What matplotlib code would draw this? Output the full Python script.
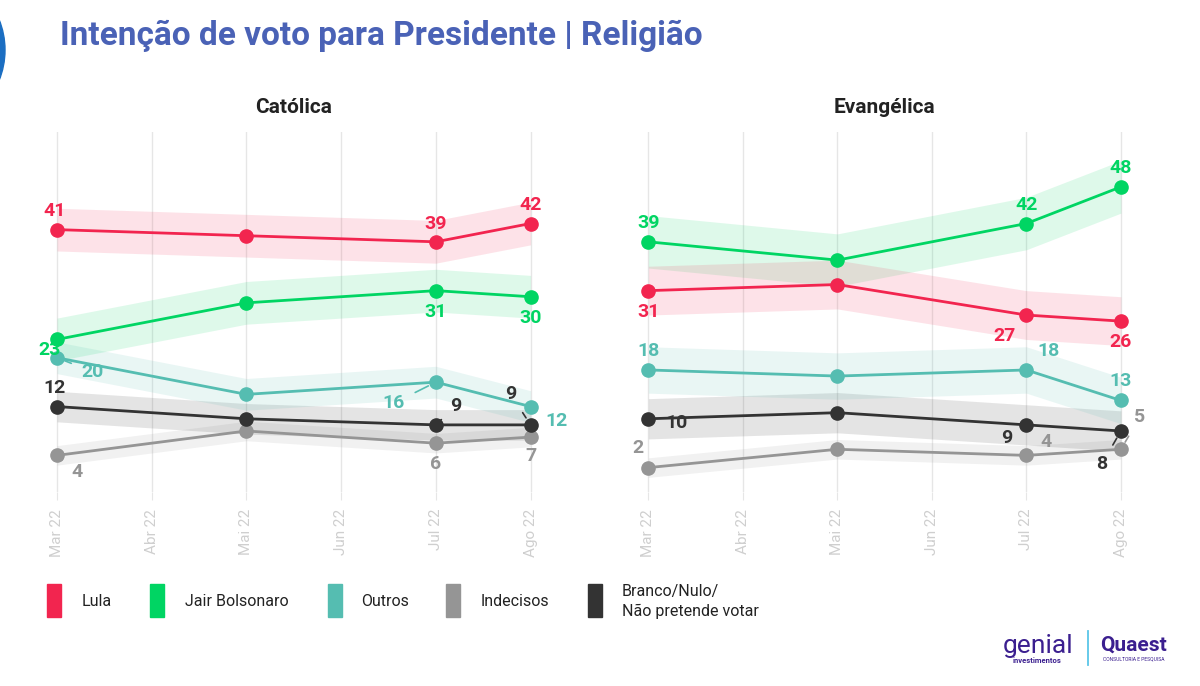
import numpy as np
import matplotlib.pyplot as plt
from matplotlib.patches import Rectangle, Circle

plt.rcParams['font.family'] = ['Roboto', 'DejaVu Sans']

# Dados
meses = ['Mar 22', 'Abr 22', 'Mai 22', 'Jun 22', 'Jul 22', 'Ago 22']
idx_pesquisa = [0, 2, 4, 5]  # meses com pesquisa

series = ['Lula', 'Jair Bolsonaro', 'Outros', 'Indecisos', 'Branco/Nulo/\nNão pretende votar']
cores = ['#F2254F', '#00D563', '#55BDB1', '#959595', '#333333']

cat_lula = [41, 40, 39, 42]
cat_bolso = [23, 29, 31, 30]
cat_outros = [20, 14, 16, 12]
cat_indec = [4, 8, 6, 7]
cat_branco = [12, 10, 9, 9]

eva_lula = [31, 32, 27, 26]
eva_bolso = [39, 36, 42, 48]
eva_outros = [18, 17, 18, 13]
eva_indec = [2, 5, 4, 5]
eva_branco = [10, 11, 9, 8]

# margem (meia largura da faixa)
cat_margem = [3.5, 3.5, 2.6, 1.6, 2.5]
eva_margem = [4.0, 4.3, 3.8, 1.6, 3.3]

# posição dos rótulos (dx, dy em pixels, linha de ligação) por ponto; None = sem rótulo
cat_rot = [
    [(-2, 19, 0), None, (0, 18, 0), (0, 19, 0)],
    [(-7, -11, 0), None, (0, -21, 0), (0, -21, 0)],
    [(36, -14, 1), None, (-42, -21, 1), (26, -14, 0)],
    [(20, -17, 1), None, (0, -21, 0), (0, -19, 0)],
    [(-2, 19, 0), None, (20, 19, 1), (-20, 31, 1)],
]
eva_rot = [
    [(0, -21, 0), None, (-22, -21, 1), (0, -21, 0)],
    [(0, 19, 0), None, (0, 19, 0), (0, 19, 0)],
    [(0, 19, 0), None, (22, 19, 1), (0, 19, 0)],
    [(-10, 20, 0), None, (20, 13, 0), (19, 32, 1)],
    [(28, -4, 0), None, (-20, -13, 0), (-19, -33, 1)],
]

paineis = [
    ('Católica', [cat_lula, cat_bolso, cat_outros, cat_indec, cat_branco], cat_margem, cat_rot),
    ('Evangélica', [eva_lula, eva_bolso, eva_outros, eva_indec, eva_branco], eva_margem, eva_rot),
]

fig = plt.figure(figsize=(12, 6.86), dpi=100)
posicoes = [[0.0238, 0.2828, 0.442, 0.5248], [0.5167, 0.2828, 0.441, 0.5248]]
ordem = [3, 4, 2, 1, 0]  # ordem de desenho

for pos, (titulo, valores, margem, rotulos) in zip(posicoes, paineis):
    ax = fig.add_axes(pos)
    x = np.array(idx_pesquisa)
    for i in ordem:
        v = np.array(valores[i], dtype=float)
        ax.fill_between(x, v - margem[i], v + margem[i], color=cores[i], alpha=0.13, lw=0, zorder=1)
    for i in ordem:
        v = valores[i]
        ax.plot(x, v, color=cores[i], lw=2.0, marker='o', ms=9.5, zorder=3)
        for j, r in enumerate(rotulos[i]):
            if r is None:
                continue
            dx, dy, ligacao = r
            props = None
            if ligacao:
                props = dict(arrowstyle='-', color=cores[i], lw=1.2, shrinkA=6, shrinkB=6)
            ax.annotate(str(v[j]), (x[j], v[j]), xytext=(dx, dy), textcoords='offset pixels',
                        ha='center', va='center', fontsize=14, fontweight='bold',
                        color=cores[i], arrowprops=props, zorder=5)
    ax.set_xlim(-0.3, 5.3)
    ax.set_ylim(-2, 57)
    ax.set_xticks(range(len(meses)))
    ax.set_xticklabels(meses, rotation=90, color='#cfcfcf', fontsize=11)
    ax.tick_params(axis='x', length=6, color='#e6e6e6', pad=6)
    ax.set_yticks([])
    ax.grid(axis='x', color='#e6e6e6', lw=1)
    ax.set_axisbelow(True)
    for s in ax.spines.values():
        s.set_visible(False)
    ax.set_title(titulo, fontsize=15, fontweight='bold', color='#222222', pad=14)

# Título
fig.text(0.05, 0.947, 'Intenção de voto para Presidente | Religião', fontsize=24,
         fontweight='bold', color='#4A62B6', va='center', ha='left')
fig.patches.append(Circle((-0.76, 6.36), 0.81, transform=fig.dpi_scale_trans,
                          color='#1B6EC2', clip_on=False))

# Legenda
leg_x = [47, 150, 328, 446, 588]
txt_x = [82, 185, 361, 481, 622]
for i in range(5):
    fig.patches.append(Rectangle((leg_x[i] / 1200, 0.10), 14 / 1200, 0.048,
                                 transform=fig.transFigure, color=cores[i]))
    fig.text(txt_x[i] / 1200, 0.123, series[i], fontsize=11.5, color='#222222', va='center',
             ha='left', linespacing=1.35)

# Logos
fig.text(0.836, 0.058, 'genial', fontsize=19, color='#3B1F8F', ha='left', va='center')
fig.text(0.864, 0.037, 'investimentos', fontsize=5.5, color='#3B1F8F', ha='center', va='center',
         fontweight='bold')
fig.add_artist(plt.Line2D([0.907, 0.907], [0.03, 0.08], color='#5BC6E8', lw=1.3))
fig.text(0.917, 0.06, 'Quaest', fontsize=15, color='#3B1F8F', ha='left', va='center',
         fontweight='bold')
fig.text(0.945, 0.039, 'CONSULTORIA E PESQUISA', fontsize=3.6, color='#3B1F8F', ha='center',
         va='center')

fig.savefig('out.png', dpi=100)
